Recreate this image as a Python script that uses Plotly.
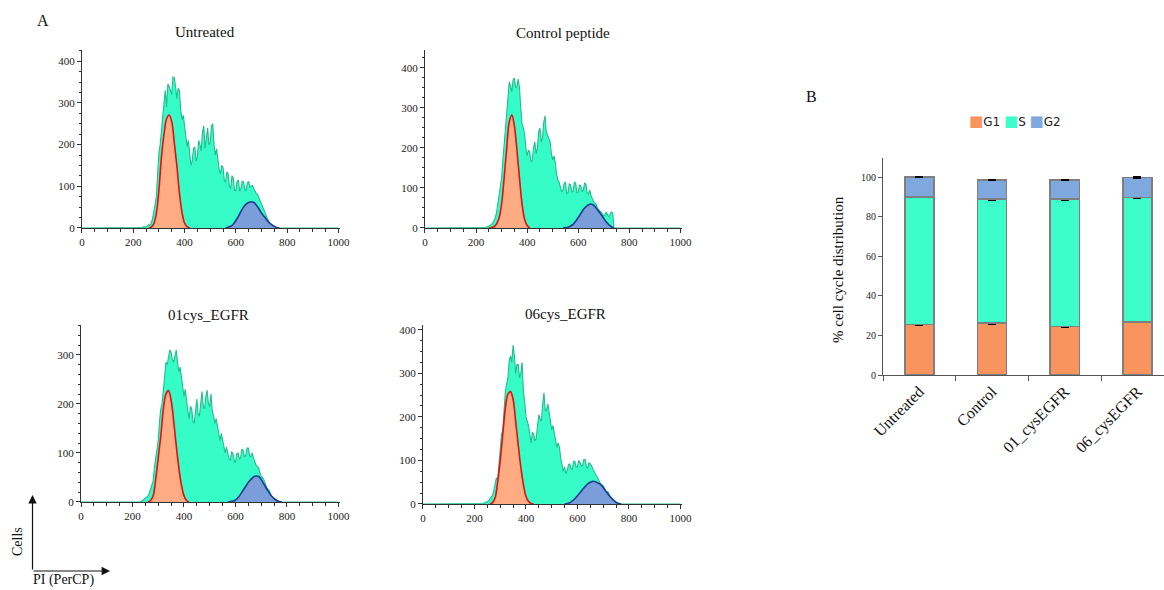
import plotly.graph_objects as go

# ---------------- Data ----------------
channel_span = [0, 1000]                        # PI (PerCP) channel range
channels = list(range(220, 795, 5))             # histogram bins shown (115)

untreated_total = [0, 0, 0, 1, 3, 2, 2, 5, 8, 6,
                   12, 22, 35, 55, 75, 140, 180, 200, 240, 280,
                   300, 330, 290, 345, 340, 330, 320, 362, 360, 340,
                   310, 335, 330, 285, 260, 270, 245, 210, 195, 210,
                   185, 150, 160, 190, 195, 160, 170, 210, 200, 185,
                   230, 245, 190, 225, 240, 200, 205, 245, 250, 200,
                   175, 190, 165, 140, 130, 150, 145, 115, 110, 135,
                   130, 100, 95, 125, 120, 90, 90, 112, 115, 88,
                   95, 112, 110, 92, 90, 108, 112, 98, 100, 102,
                   95, 88, 82, 80, 72, 64, 58, 50, 42, 35,
                   28, 18, 10, 5, 2, 1, 0, 0, 0, 0,
                   0, 0, 0, 0, 0]
control_total = [0, 0, 0, 1, 2, 3, 5, 7, 8, 12,
                 18, 25, 38, 60, 80, 100, 125, 170, 210, 240,
                 270, 330, 365, 355, 340, 370, 375, 350, 355, 372,
                 350, 300, 260, 250, 235, 200, 180, 195, 190, 165,
                 170, 200, 215, 185, 200, 240, 250, 215, 225, 265,
                 280, 240, 230, 225, 215, 185, 170, 180, 165, 135,
                 120, 115, 105, 90, 95, 112, 115, 85, 88, 110,
                 108, 90, 92, 115, 112, 88, 90, 108, 105, 92,
                 95, 112, 110, 88, 85, 95, 82, 70, 65, 62,
                 60, 50, 45, 42, 40, 35, 30, 34, 40, 32,
                 28, 35, 40, 38, 0, 0, 0, 0, 0, 0,
                 0, 0, 0, 0, 0]
cys01_total = [0, 0, 0, 2, 3, 5, 8, 10, 12, 18,
               28, 35, 42, 70, 90, 105, 125, 165, 190, 200,
               225, 260, 285, 280, 295, 310, 305, 290, 285, 300,
               310, 285, 265, 275, 255, 240, 215, 230, 205, 185,
               170, 195, 190, 165, 160, 185, 210, 180, 175, 200,
               225, 195, 190, 215, 228, 200, 195, 220, 185, 175,
               160, 170, 155, 135, 125, 140, 125, 110, 100, 112,
               100, 88, 85, 102, 100, 85, 80, 98, 100, 88,
               90, 108, 105, 92, 95, 110, 110, 95, 92, 100,
               90, 82, 75, 72, 70, 60, 52, 50, 46, 38,
               30, 26, 24, 18, 12, 10, 8, 5, 3, 2,
               1, 0, 0, 0, 0]
cys06_total = [0, 0, 0, 1, 3, 4, 5, 8, 12, 15,
               20, 30, 50, 60, 55, 90, 130, 160, 170, 210,
               260, 275, 290, 330, 340, 325, 365, 340, 300, 320,
               320, 290, 300, 325, 260, 235, 200, 190, 180, 160,
               140, 165, 160, 145, 150, 180, 205, 195, 190, 230,
               255, 215, 215, 230, 210, 185, 170, 180, 165, 145,
               130, 140, 130, 105, 90, 75, 85, 70, 75, 90,
               92, 80, 80, 98, 98, 85, 85, 100, 95, 88,
               88, 102, 102, 85, 82, 95, 92, 88, 80, 75,
               68, 65, 60, 52, 46, 44, 42, 36, 30, 28,
               27, 20, 15, 12, 9, 5, 3, 2, 1, 0,
               0, 0, 0, 0, 0]

# G1 fitted peaks
untreated_g1_ch = list(range(260, 430, 10))
untreated_g1 = [0, 2, 10, 35, 90, 170, 225, 262, 271, 255, 205, 150, 85, 38, 12, 3, 0]
control_g1_ch = list(range(250, 420, 10))
control_g1 = [0, 1, 3, 10, 25, 60, 125, 200, 265, 282, 255, 195, 125, 60, 22, 6, 0]
cys01_g1_ch = list(range(260, 430, 10))
cys01_g1 = [0, 3, 12, 45, 90, 135, 190, 220, 227, 208, 165, 115, 70, 35, 13, 3, 0]
cys06_g1_ch = list(range(260, 440, 10))
cys06_g1 = [0, 3, 14, 50, 100, 160, 220, 252, 258, 240, 190, 135, 85, 45, 18, 6, 1, 0]

# G2 fitted peaks
untreated_g2_ch = list(range(560, 780, 10))
untreated_g2 = [0, 2, 4, 9, 18, 28, 40, 50, 57, 61, 63, 61, 55, 46, 36, 28, 20, 13, 8, 4, 1, 0]
control_g2_ch = list(range(540, 750, 10))
control_g2 = [0, 1, 2, 5, 9, 17, 26, 36, 46, 53, 58, 60, 57, 50, 42, 33, 24, 15, 8, 3, 0]
cys01_g2_ch = list(range(570, 790, 10))
cys01_g2 = [0, 1, 2, 4, 9, 16, 24, 32, 40, 46, 51, 53, 52, 46, 37, 28, 20, 12, 7, 3, 1, 0]
cys06_g2_ch = list(range(550, 780, 10))
cys06_g2 = [0, 1, 3, 7, 12, 19, 26, 33, 40, 46, 50, 52, 51, 48, 45, 38, 30, 22, 15, 9, 4, 1, 0]

panel_titles = ["Untreated", "Control peptide", "01cys_EGFR", "06cys_EGFR"]

# Bar chart (panel B)
categories = ["Untreated", "Control", "01_cysEGFR", "06_cysEGFR"]
phases = ["G1", "S", "G2"]
g1_pct = [25.5, 26.2, 24.5, 26.7]
s_pct = [64.5, 62.7, 64.4, 62.9]
g2_pct = [10.0, 9.6, 9.6, 10.1]
g1_err = [0.3, 0.6, 0.2, 0.3]
s_err = [0.3, 0.4, 0.8, 0.5]
g2_err = [0.2, 0.3, 0.2, 0.3]

# ---------------- Styling ----------------
SERIF = "Liberation Serif"
S_FILL, S_LINE = "#36fcc8", "#1fbf8d"
G1_FILL, G1_LINE = "#ffab84", "#e01010"
G2_FILL, G2_LINE = "#7b9edb", "#173c8c"
BAR_COLORS = ["#fa945f", "#3dfdcb", "#7ea8de"]

fig = go.Figure()

panels = [
    dict(total=untreated_total, g1x=untreated_g1_ch, g1=untreated_g1, g2x=untreated_g2_ch, g2=untreated_g2,
         xd=[0.0704, 0.2925], yd=[0.6136, 0.9153], yr=427, ymin=25),
    dict(total=control_total, g1x=control_g1_ch, g1=control_g1, g2x=control_g2_ch, g2=control_g2,
         xd=[0.3651, 0.5863], yd=[0.6136, 0.9153], yr=445, ymin=25),
    dict(total=cys01_total, g1x=cys01_g1_ch, g1=cys01_g1, g2x=cys01_g2_ch, g2=cys01_g2,
         xd=[0.0696, 0.2925], yd=[0.1492, 0.4492], yr=361, ymin=20),
    dict(total=cys06_total, g1x=cys06_g1_ch, g1=cys06_g1, g2x=cys06_g2_ch, g2=cys06_g2,
         xd=[0.3634, 0.5863], yd=[0.1458, 0.4492], yr=411, ymin=25),
]

layout_axes = {}
for i, p in enumerate(panels):
    n = i + 1
    xa, ya = f"x{n}", f"y{n}"
    tx = [channel_span[0]] + channels + [channel_span[1]]
    ty = [0] + p["total"] + [0]
    fig.add_trace(go.Scatter(x=tx, y=ty, xaxis=xa, yaxis=ya, mode="lines", fill="tozeroy",
                             fillcolor=S_FILL, line=dict(color=S_LINE, width=1.1), showlegend=False,
                             hoverinfo="skip"))
    fig.add_trace(go.Scatter(x=p["g1x"], y=p["g1"], xaxis=xa, yaxis=ya, mode="lines", fill="tozeroy",
                             fillcolor=G1_FILL, line=dict(color=G1_LINE, width=1.6, shape="spline"),
                             showlegend=False, hoverinfo="skip"))
    fig.add_trace(go.Scatter(x=p["g2x"], y=p["g2"], xaxis=xa, yaxis=ya, mode="lines", fill="tozeroy",
                             fillcolor=G2_FILL, line=dict(color=G2_LINE, width=1.6, shape="spline"),
                             showlegend=False, hoverinfo="skip"))
    key_x = "xaxis" if n == 1 else f"xaxis{n}"
    key_y = "yaxis" if n == 1 else f"yaxis{n}"
    layout_axes[key_x] = dict(domain=p["xd"], anchor=ya, range=[0, 1008], tickvals=[0, 200, 400, 600, 800, 1000],
                              ticks="outside", ticklen=4, tickcolor="#333", showline=True, linecolor="#333",
                              linewidth=1, showgrid=False, zeroline=False, automargin=False,
                              minor=dict(dtick=50, ticks="outside", ticklen=3, tickcolor="#333"),
                              tickfont=dict(family=SERIF, size=11, color="#222"))
    layout_axes[key_y] = dict(domain=p["yd"], anchor=xa, range=[0, p["yr"]], dtick=100,
                              ticks="outside", ticklen=4, tickcolor="#333", showline=True, linecolor="#333",
                              linewidth=1, showgrid=False, zeroline=False, automargin=False,
                              minor=dict(dtick=p["ymin"], ticks="outside", ticklen=2, tickcolor="#333"),
                              tickfont=dict(family=SERIF, size=11, color="#222"))

# Bar chart
bar_line = dict(color="#7f7f7f", width=1.5)
err_style = dict(type="data", color="black", thickness=1.5, width=4)
for name, vals, errs, col in zip(phases, [g1_pct, s_pct, g2_pct], [g1_err, s_err, g2_err], BAR_COLORS):
    fig.add_trace(go.Bar(x=categories, y=vals, name=name, xaxis="x5", yaxis="y5", width=0.4,
                         marker=dict(color=col, line=bar_line), showlegend=False,
                         error_y=dict(array=errs, **err_style)))

layout_axes["xaxis5"] = dict(domain=[0.7586, 1.0], anchor="y5", type="category", range=[-0.5, 3.365],
                             tickson="boundaries", ticks="outside", ticklen=5, tickcolor="#555",
                             showline=True, linecolor="#555", linewidth=1, showgrid=False, tickangle=-45,
                             automargin=False,
                             tickfont=dict(family=SERIF, size=16, color="#111"))
layout_axes["yaxis5"] = dict(domain=[0.3644, 0.7322], anchor="x5", range=[0, 109.6], dtick=20,
                             ticks="outside", ticklen=4, tickcolor="#555", showline=True, linecolor="#555",
                             linewidth=1, showgrid=False, zeroline=False, automargin=False,
                             tickfont=dict(family=SERIF, size=10, color="#222"))

# compact legend for panel B (coloured squares + phase names)
legend_text = " ".join(
    f'<span style="color:{c};font-size:15px">■</span>{n}' for n, c in zip(phases, BAR_COLORS)
)

annotations = [
    dict(text="A", x=43 / 1164, y=1 - 20 / 590, font=dict(family=SERIF, size=16, color="#111")),
    dict(text="B", x=811 / 1164, y=1 - 97 / 590, font=dict(family=SERIF, size=16, color="#111")),
    dict(text=panel_titles[0], x=205 / 1164, y=1 - 32 / 590, font=dict(family=SERIF, size=15, color="#111")),
    dict(text=panel_titles[1], x=563 / 1164, y=1 - 33 / 590, font=dict(family=SERIF, size=15, color="#111")),
    dict(text=panel_titles[2], x=208 / 1164, y=1 - 315 / 590, font=dict(family=SERIF, size=15, color="#111")),
    dict(text=panel_titles[3], x=565 / 1164, y=1 - 314 / 590, font=dict(family=SERIF, size=15, color="#111")),
    dict(text="% cell cycle distribution", x=838 / 1164, y=1 - 270 / 590, textangle=-90,
         font=dict(family=SERIF, size=15, color="#111")),
    dict(text=legend_text, x=1015 / 1164, y=1 - 121 / 590,
         font=dict(family="DejaVu Sans", size=12, color="#222")),
    dict(text="Cells", x=17 / 1164, y=1 - 542 / 590, textangle=-90, font=dict(family=SERIF, size=14, color="#111")),
    dict(text="PI (PerCP)", x=63 / 1164, y=1 - 580 / 590, font=dict(family=SERIF, size=14, color="#111")),
]
for a in annotations:
    a.update(xref="paper", yref="paper", showarrow=False, xanchor="center", yanchor="middle")

arrows = [
    dict(x=32.5 / 1164, y=1 - 495 / 590, ax=0, ay=76),
    dict(x=110 / 1164, y=1 - 571 / 590, ax=-78, ay=0),
]
for a in arrows:
    a.update(xref="paper", yref="paper", text="", showarrow=True, arrowhead=2, arrowsize=1.4,
             arrowwidth=1.2, arrowcolor="#111", standoff=0, startstandoff=0)
    annotations.append(a)

fig.update_layout(
    width=1164, height=590, margin=dict(l=0, r=0, t=0, b=0, autoexpand=False),
    paper_bgcolor="white", plot_bgcolor="white",
    barmode="stack",
    showlegend=False,
    annotations=annotations,
    **layout_axes,
)

fig.write_html("out.html", config={"displayModeBar": False},
               post_script="document.body.style.margin='0';document.body.style.overflow='hidden';")
